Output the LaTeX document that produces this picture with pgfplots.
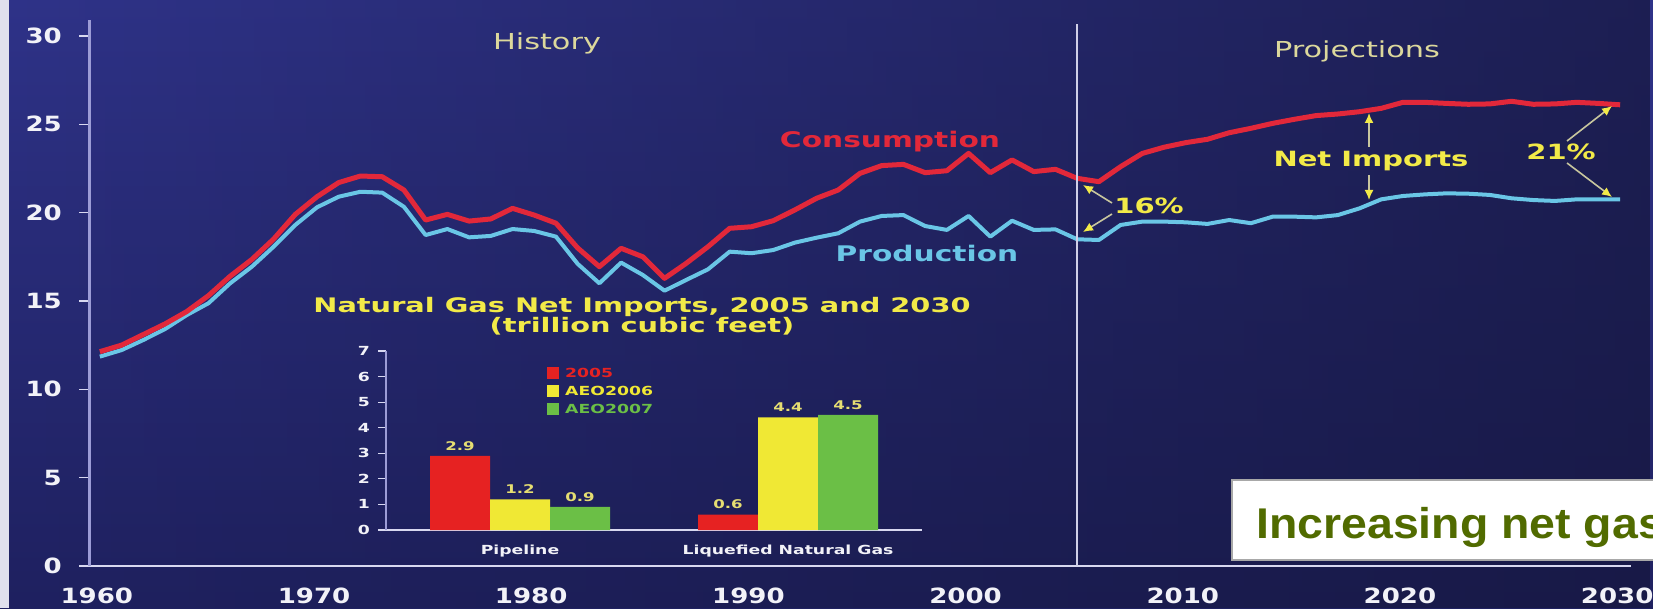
\documentclass[border=0pt]{standalone}
\usepackage{pgfplots}
\pgfplotsset{compat=1.18}
\usepackage{pgfplotstable}
\usepackage{graphicx}
\usepackage{fontspec}
\setmainfont{DejaVu Sans}
\newfontfamily\lib{Liberation Sans}
\usetikzlibrary{arrows.meta,fadings}

\definecolor{bgA}{HTML}{2F3389}
\definecolor{bgB}{HTML}{1F2160}
\definecolor{bgC}{HTML}{15163C}
\definecolor{consR}{HTML}{E2283A}
\definecolor{prodB}{HTML}{6AC6E6}
\definecolor{ylw}{HTML}{F2EA48}
\definecolor{khaki}{HTML}{DCD89C}
\definecolor{axL}{HTML}{9C9CD6}
\definecolor{axW}{HTML}{D8D8F0}
\definecolor{tickW}{HTML}{F2F2F8}
\definecolor{divC}{HTML}{D0D0E8}
\definecolor{barR}{HTML}{E62222}
\definecolor{barY}{HTML}{F0E834}
\definecolor{barG}{HTML}{6BBF46}
\definecolor{valY}{HTML}{E6DE72}
\definecolor{olive}{HTML}{516B00}
\definecolor{arrC}{HTML}{C8C69E}
\definecolor{boxG}{HTML}{A8A8A8}

\newcommand{\T}[1]{\scalebox{1.38}[1]{#1}}
\newcommand{\TT}[1]{\scalebox{1.24}[1]{#1}}
\newcommand{\lfont}{\bfseries\fontsize{12.5}{12.5}\selectfont}

\tikzfading[name=fadeR, left color=transparent!100, right color=transparent!0]

\pgfplotstableread{
year cons prod
1960 12.13 11.85
1961 12.50 12.22
1962 13.10 12.79
1963 13.70 13.41
1964 14.40 14.20
1965 15.30 14.87
1966 16.40 16.00
1967 17.35 16.94
1968 18.50 18.07
1969 19.90 19.30
1970 20.90 20.30
1971 21.70 20.90
1972 22.07 21.18
1973 22.03 21.13
1974 21.28 20.33
1975 19.58 18.73
1976 19.90 19.07
1977 19.52 18.60
1978 19.64 18.68
1979 20.24 19.07
1980 19.86 18.96
1981 19.40 18.64
1982 18.00 17.10
1983 16.94 16.00
1984 17.98 17.17
1985 17.50 16.47
1986 16.28 15.58
1987 17.13 16.19
1988 18.07 16.79
1989 19.11 17.79
1990 19.20 17.70
1991 19.54 17.88
1992 20.15 18.30
1993 20.81 18.58
1994 21.28 18.83
1995 22.22 19.49
1996 22.66 19.81
1997 22.73 19.86
1998 22.26 19.24
1999 22.37 19.02
2000 23.35 19.81
2001 22.26 18.64
2002 22.98 19.54
2003 22.32 19.02
2004 22.45 19.05
2005 21.94 18.49
2006 21.75 18.45
2007 22.60 19.30
2008 23.35 19.49
2009 23.70 19.49
2010 23.96 19.45
2011 24.15 19.36
2012 24.52 19.58
2013 24.77 19.40
2014 25.05 19.77
2015 25.28 19.77
2016 25.49 19.73
2017 25.58 19.86
2018 25.71 20.24
2019 25.90 20.75
2020 26.24 20.94
2021 26.24 21.03
2022 26.18 21.09
2023 26.13 21.07
2024 26.15 21.00
2025 26.30 20.81
2026 26.13 20.71
2027 26.15 20.66
2028 26.24 20.75
2029 26.18 20.75
2030 26.10 20.75
}\gasdata

\pgfplotstableread{
cat a b c
1 2.9 1.2 0.9
2 0.6 4.4 4.5
}\imports

\begin{document}
\begin{tikzpicture}[x=1pt,y=1pt]
\useasboundingbox (0,0) rectangle (1653,608);
\clip (0,0) rectangle (1653,608);
\shade[top color=bgA, bottom color=bgB] (0,0) rectangle (1653,608);
\fill[bgC, fill opacity=0.7, path fading=fadeR] (0,0) rectangle (1653,608);
\fill[white!85!bgA] (0,0) rectangle (9,608);

\begin{axis}[
  at={(89pt,42pt)}, anchor=south west, scale only axis,
  width=1542pt, height=546pt,
  xmin=1959.5, xmax=2030.5, ymin=0, ymax=30.9,
  axis x line*=bottom, axis y line*=left,
  x axis line style={draw=axW, line width=2pt},
  y axis line style={draw=axL, line width=3pt},
  xtick=\empty,
  minor xtick={1959.5,1960.5,...,2030.5},
  extra x ticks={1960,1970,...,2030},
  extra x tick labels={\TT{1960},\TT{1970},\TT{1980},\TT{1990},\TT{2000},\TT{2010},\TT{2020},\TT{2030}},
  extra x tick style={major tick length=0pt},
  ytick={0,5,...,30},
  yticklabels={\TT{0},\TT{5},\TT{10},\TT{15},\TT{20},\TT{25},\TT{30}},
  tick align=outside,
  major tick length=10pt, minor tick length=7pt,
  tick style={draw=axW, line width=1.5pt},
  tick label style={font=\bfseries\fontsize{21}{21}\selectfont, text=tickW, inner sep=0pt},
  yticklabel style={xshift=-17pt},
  xticklabel style={yshift=-22pt, xshift=-3pt},
  clip=false,
]
\addplot[prodB, line width=4pt, line join=round] table[x=year,y=prod]{\gasdata};
\addplot[consR, line width=5pt, line join=round] table[x=year,y=cons]{\gasdata};
\draw[divC, line width=2.5pt] (axis cs:2005,0) -- (axis cs:2005,30.7);
\end{axis}

\begin{axis}[
  at={(386pt,78pt)}, anchor=south west, scale only axis,
  width=536pt, height=179pt,
  xmin=0.5, xmax=2.5, ymin=0, ymax=7,
  ybar=0pt, bar width=60pt,
  axis x line*=bottom, axis y line*=left,
  x axis line style={draw=axW, line width=1.5pt},
  y axis line style={draw=axL, line width=2pt},
  xtick=\empty, minor xtick={0.5,1.5,2.5},
  extra x ticks={1,2},
  extra x tick labels={\T{Pipeline},\T{Liquefied Natural Gas}},
  extra x tick style={major tick length=0pt},
  ytick={0,1,...,7},
  yticklabels={\T{0},\T{1},\T{2},\T{3},\T{4},\T{5},\T{6},\T{7}},
  tick align=outside, major tick length=8pt, minor tick length=6pt,
  tick style={draw=axW, line width=1.2pt},
  tick label style={font=\bfseries\fontsize{12.5}{12.5}\selectfont, text=tickW, inner sep=0pt},
  yticklabel style={xshift=-8pt},
  xticklabel style={yshift=-15pt},
  /pgf/number format/assume math mode=true,
  nodes near coords={\T{\pgfmathprintnumber{\pgfplotspointmeta}}},
  every node near coord/.append style={font=\bfseries\fontsize{12}{12}\selectfont, text=valY, yshift=2pt},
  clip=false,
]
\addplot[fill=barR, draw=none] table[x=cat,y=a]{\imports};
\addplot[fill=barY, draw=none] table[x=cat,y=b]{\imports};
\addplot[fill=barG, draw=none] table[x=cat,y=c]{\imports};
% legend
\fill[barR] (rel axis cs:0.3004,0.9107) rectangle (rel axis cs:0.3228,0.8436);
\fill[barY] (rel axis cs:0.3004,0.8101) rectangle (rel axis cs:0.3228,0.7430);
\fill[barG] (rel axis cs:0.3004,0.7095) rectangle (rel axis cs:0.3228,0.6424);
\node[anchor=west, inner sep=0, text=barR, font=\lfont] at (rel axis cs:0.3340,0.8771) {\T{2005}};
\node[anchor=west, inner sep=0, text=barY, font=\lfont] at (rel axis cs:0.3340,0.7765) {\T{AEO2006}};
\node[anchor=west, inner sep=0, text=barG, font=\lfont] at (rel axis cs:0.3340,0.6760) {\T{AEO2007}};
\end{axis}

% annotations
\node[anchor=base, inner sep=0, text=khaki, font=\fontsize{22}{22}\selectfont] at (547,558) {\T{History}};
\node[anchor=base, inner sep=0, text=khaki, font=\fontsize{22}{22}\selectfont] at (1357,550) {\T{Projections}};
\node[anchor=base, inner sep=0, text=consR, font=\bfseries\fontsize{21.5}{21.5}\selectfont] at (890,460) {\T{Consumption}};
\node[anchor=base, inner sep=0, text=prodB, font=\bfseries\fontsize{21.5}{21.5}\selectfont] at (927,346) {\T{Production}};
\node[anchor=base, inner sep=0, text=ylw, font=\bfseries\fontsize{21}{21}\selectfont] at (1371,441) {\T{Net Imports}};
\node[anchor=base, inner sep=0, text=ylw, font=\bfseries\fontsize{21}{21}\selectfont] at (1149,394) {\T{16\%}};
\node[anchor=base, inner sep=0, text=ylw, font=\bfseries\fontsize{21}{21}\selectfont] at (1561,448) {\T{21\%}};
\node[anchor=base, inner sep=0, text=ylw, font=\bfseries\fontsize{20}{20}\selectfont] at (642,295) {\scalebox{1.44}[1]{Natural Gas Net Imports, 2005 and 2030}};
\node[anchor=base, inner sep=0, text=ylw, font=\bfseries\fontsize{20}{20}\selectfont] at (642,275) {\scalebox{1.44}[1]{(trillion cubic feet)}};

\begin{scope}[arrC, line width=1.6pt, >={Latex[length=10pt,width=9pt,color=ylw]}]
\draw[->] (1369,461) -- (1369,495);
\draw[->] (1369,433) -- (1369,408);
\draw[->] (1112,405) -- (1083,423);
\draw[->] (1112,394) -- (1083,376);
\draw[->] (1567,467) -- (1612,502);
\draw[->] (1567,445) -- (1612,411);
\end{scope}

\draw[fill=white, draw=boxG, line width=2pt] (1232,48) rectangle (1700,128);
\node[anchor=base west, inner sep=0, text=olive, font=\lib\bfseries\fontsize{43}{43}\selectfont] at (1256,70) {\scalebox{1.08}[1]{Increasing net gas}};
\end{tikzpicture}
\end{document}
